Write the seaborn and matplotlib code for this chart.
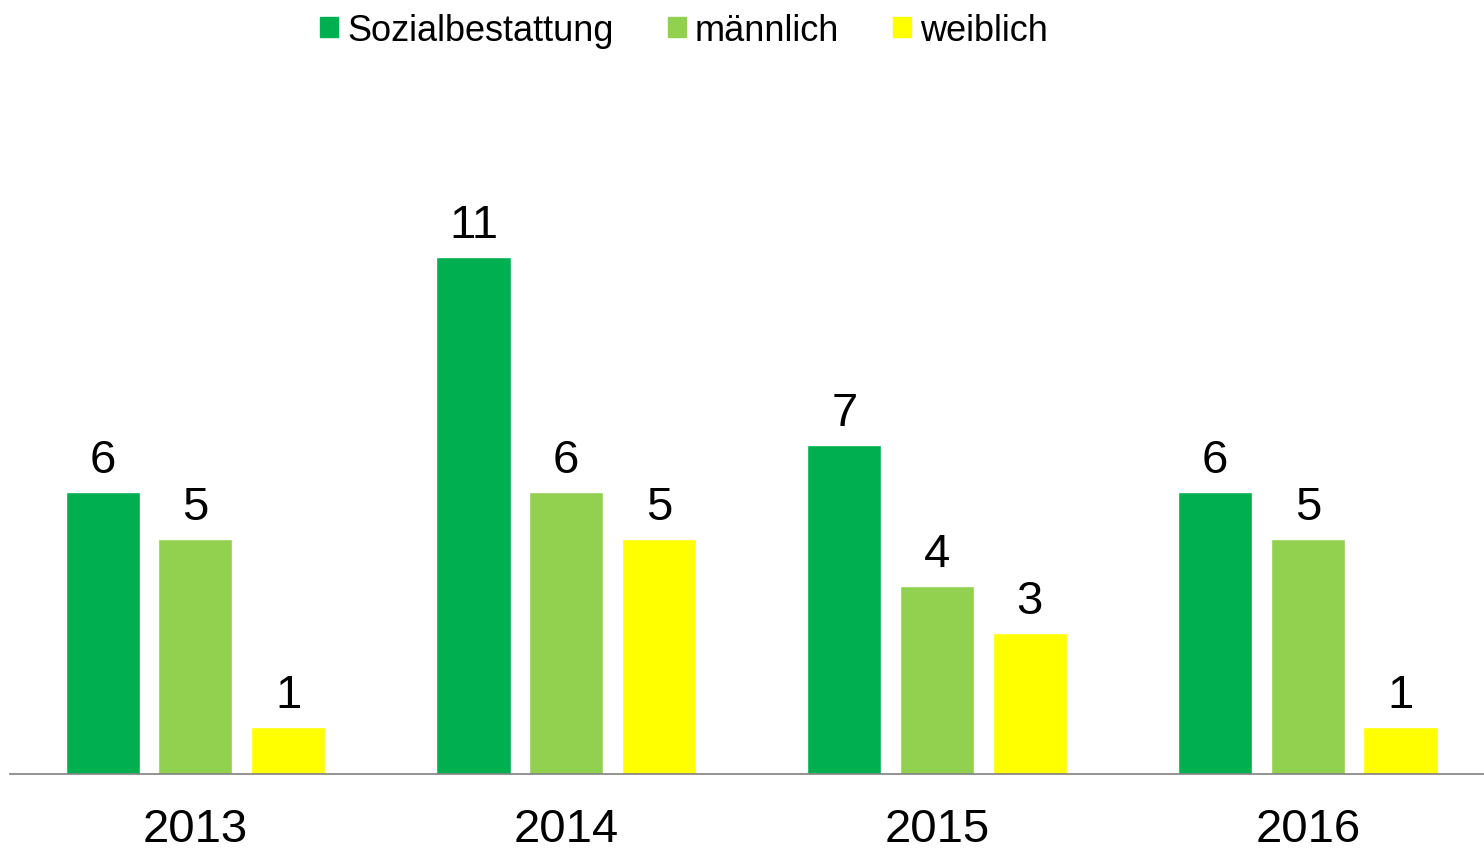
import pandas as pd
import seaborn as sns
import matplotlib.pyplot as plt
from matplotlib.patches import Patch

# values
years = ["2013", "2014", "2015", "2016"]
sozial = [6, 11, 7, 6]
maennlich = [5, 6, 4, 5]
weiblich = [1, 5, 3, 1]
series = ["Sozialbestattung", "männlich", "weiblich"]
colors = ["#00B050", "#92D050", "#FFFF00"]

df = pd.DataFrame({
    "Jahr": years * 3,
    "Anzahl": sozial + maennlich + weiblich,
    "Kategorie": [s for s in series for _ in years],
})

sns.set_style("white")
plt.rcParams["font.family"] = ["Liberation Sans", "DejaVu Sans"]
plt.rcParams["text.color"] = "black"
plt.rcParams["xtick.color"] = "black"

fig = plt.figure(figsize=(14.84, 8.53), dpi=100)
ax = fig.add_axes([10 / 1484, 78 / 853, 1 - 10 / 1484, 775 / 853])

sns.barplot(data=df, x="Jahr", y="Anzahl", hue="Kategorie", palette=colors,
            width=0.75, gap=0.2, ax=ax, legend=False, saturation=1)

for c in ax.containers:
    ax.bar_label(c, fontsize=34, padding=7, color="black")

ax.set_xlim(-0.5, 3.475)
ax.set_ylim(0, 775 / 47)
ax.set_xlabel("")
ax.set_ylabel("")
ax.set_yticks([])
ax.tick_params(axis="x", length=0, labelsize=34, pad=24, labelcolor="black")
for side in ["top", "right", "left"]:
    ax.spines[side].set_visible(False)
ax.spines["bottom"].set_color("#808080")
ax.spines["bottom"].set_linewidth(1.2)

handles = [Patch(color=c, label=s) for c, s in zip(colors, series)]
fig.legend(handles=handles, loc="upper center", bbox_to_anchor=(0.461, 1.022),
           ncol=3, frameon=False, fontsize=26, handlelength=0.5,
           handleheight=0.5, handletextpad=0.25, columnspacing=1.5,
           labelcolor="black")

fig.savefig("out.png", dpi=100, facecolor="white")
